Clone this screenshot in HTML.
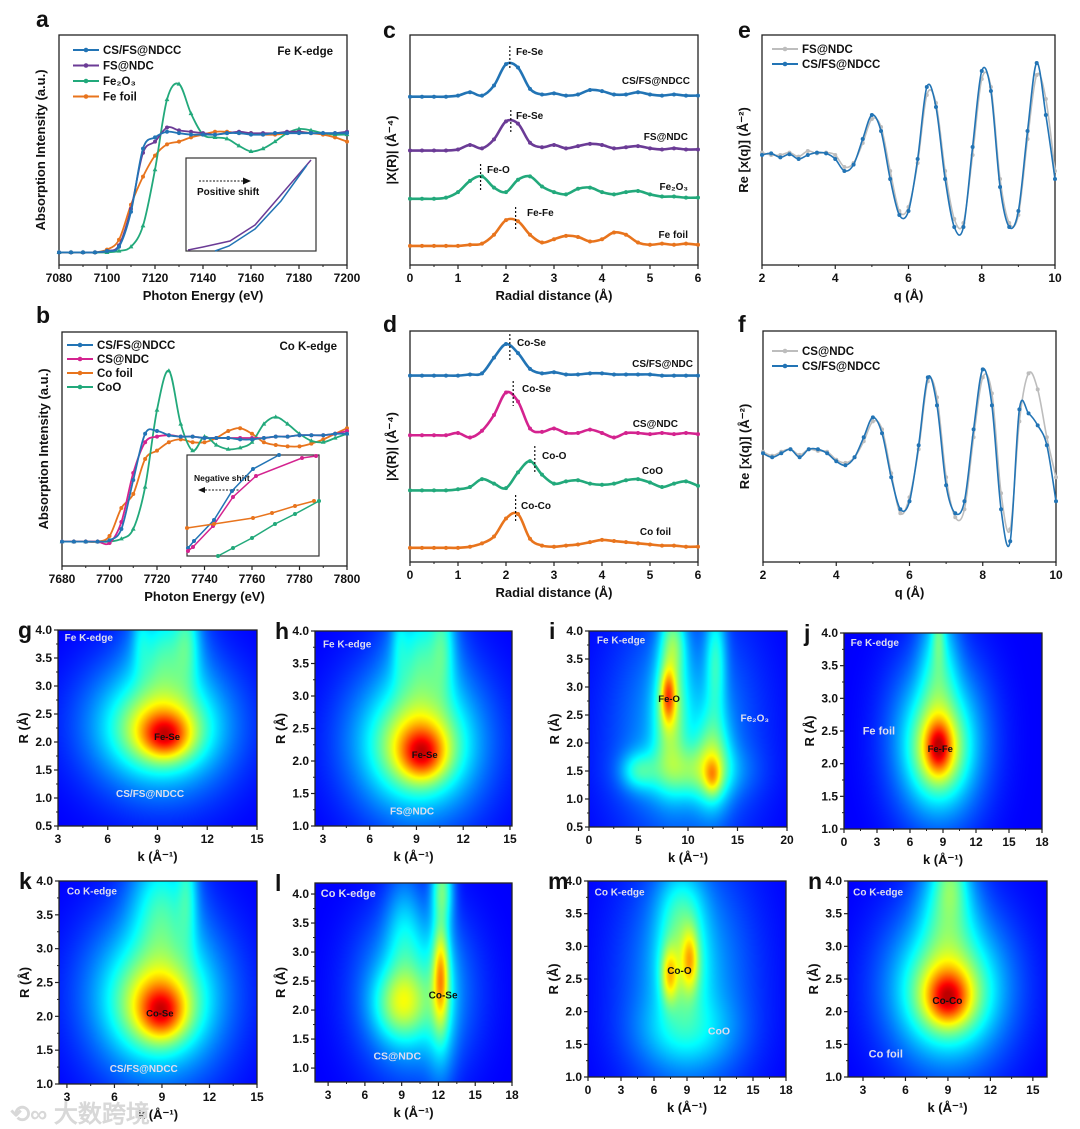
<!DOCTYPE html>
<html><head><meta charset="utf-8">
<style>
html,body{margin:0;padding:0;background:#fff;}
#wrap{position:relative;width:1080px;height:1129px;overflow:hidden;font-family:"Liberation Sans",Arial,sans-serif;}
canvas{position:absolute;}
svg{position:absolute;left:0;top:0;}
text{font-family:"Liberation Sans",Arial,sans-serif;font-weight:bold;}
</style></head>
<body>
<div id="wrap">
<svg id="fig" width="1080" height="1129" viewBox="0 0 1080 1129"></svg>
</div>
<script>
// ---------- data ----------
const aX=[7080,7085,7090,7095,7100,7105,7110,7115,7120,7125,7130,7135,7140,7145,7150,7155,7160,7165,7170,7175,7180,7185,7190,7195,7200];
const aCSFS=[0.01,0.01,0.01,0.01,0.02,0.05,0.3,0.75,0.83,0.87,0.86,0.85,0.85,0.85,0.86,0.86,0.85,0.85,0.86,0.86,0.86,0.86,0.86,0.86,0.86];
const aFS=[0.01,0.01,0.01,0.01,0.02,0.06,0.32,0.72,0.8,0.9,0.88,0.87,0.86,0.85,0.86,0.87,0.86,0.86,0.86,0.87,0.87,0.86,0.86,0.86,0.87];
const aFe2O3=[0.01,0.01,0.01,0.01,0.01,0.02,0.05,0.2,0.6,1.1,1.21,1.0,0.85,0.83,0.82,0.77,0.73,0.75,0.8,0.86,0.89,0.88,0.86,0.85,0.85];
const aFeFoil=[0.01,0.01,0.01,0.01,0.03,0.1,0.35,0.55,0.7,0.78,0.8,0.83,0.85,0.87,0.87,0.86,0.86,0.85,0.85,0.86,0.87,0.86,0.85,0.83,0.8];
const bX=[7680,7685,7690,7695,7700,7705,7710,7715,7720,7725,7730,7735,7740,7745,7750,7755,7760,7765,7770,7775,7780,7785,7790,7795,7800];
const bCSFS=[0.01,0.01,0.01,0.01,0.02,0.1,0.45,0.78,0.8,0.77,0.76,0.76,0.75,0.75,0.75,0.74,0.74,0.75,0.76,0.76,0.77,0.77,0.77,0.78,0.78];
const bCS=[0.01,0.01,0.01,0.01,0.0,0.15,0.5,0.72,0.76,0.77,0.76,0.76,0.75,0.75,0.75,0.75,0.75,0.75,0.76,0.76,0.77,0.77,0.77,0.78,0.8];
const bCoFoil=[0.01,0.01,0.01,0.01,0.05,0.25,0.35,0.6,0.66,0.72,0.74,0.72,0.72,0.75,0.8,0.82,0.78,0.72,0.7,0.69,0.69,0.71,0.74,0.78,0.82];
const bCoO=[0.01,0.01,0.01,0.01,0.01,0.03,0.1,0.4,0.95,1.23,0.85,0.66,0.76,0.7,0.67,0.68,0.72,0.85,0.9,0.85,0.78,0.73,0.72,0.75,0.78];
const rX=[0,0.25,0.5,0.75,1,1.25,1.5,1.75,2,2.25,2.5,2.75,3,3.25,3.5,3.75,4,4.25,4.5,4.75,5,5.25,5.5,5.75,6];
const cCSFS=[0,0,0,0,0.05,0.2,0.05,0.5,1.45,1.3,0.35,0.1,0.15,0.05,0.1,0.3,0.25,0.1,0.1,0.2,0.1,0.05,0.1,0.05,0.05];
const cFS=[0,0,0,0,0.05,0.25,0.1,0.5,1.3,1.2,0.35,0.15,0.25,0.1,0.2,0.3,0.25,0.1,0.15,0.2,0.1,0.05,0.1,0.05,0.05];
const cFe2O3=[0,0,0,0.05,0.3,0.8,1.0,0.5,0.3,0.85,1.0,0.55,0.3,0.2,0.45,0.5,0.3,0.2,0.3,0.35,0.2,0.1,0.1,0.05,0.05];
const cFeFoil=[0,0,0,0,0,0.05,0.1,0.5,1.15,1.1,0.5,0.15,0.3,0.45,0.4,0.2,0.3,0.6,0.5,0.15,0.05,0.1,0.05,0.1,0.05];
const cOffsets=[7.05,4.65,2.5,0.4];
const dCSFS=[0,0,0,0,0,0.05,0.1,0.8,1.4,1.0,0.3,0.1,0.15,0.05,0.05,0.1,0.1,0.05,0.05,0.05,0.05,0,0,0,0];
const dCS=[0,0,0,0,0.1,-0.1,0.2,0.9,1.9,1.5,0.3,0.15,0.3,0.1,0.1,0.25,0.1,-0.1,0.1,0.1,0.05,0.1,0.05,0.1,0.05];
const dCoO=[0,0,0,0,0.05,0.15,0.5,0.3,0.1,0.8,1.3,0.7,0.3,0.4,0.45,0.3,0.25,0.3,0.45,0.5,0.35,0.15,0.3,0.4,0.2];
const dCoFoil=[0,0,0,0,0,0.05,0.2,0.5,1.3,1.5,0.4,0.1,0.05,0.1,0.15,0.25,0.35,0.3,0.25,0.2,0.15,0.1,0.1,0.05,0.05];
const dOffsets=[7.75,5.1,2.65,0.1];
const qX=[2,2.25,2.5,2.75,3,3.25,3.5,3.75,4,4.25,4.5,4.75,5,5.25,5.5,5.75,6,6.25,6.5,6.75,7,7.25,7.5,7.75,8,8.25,8.5,8.75,9,9.25,9.5,9.75,10];
const eCSFS=[0,0.02,-0.03,0.01,-0.05,0,0.03,0.02,-0.05,-0.2,-0.12,0.2,0.5,0.3,-0.3,-0.75,-0.7,-0.05,0.85,0.6,-0.3,-0.9,-0.9,0.1,1.05,0.8,-0.4,-0.9,-0.7,0.3,1.15,0.5,-0.3];
const eFS=[0.03,0,0,0.03,-0.02,0.05,0.02,0.03,0,-0.15,-0.1,0.15,0.45,0.35,-0.2,-0.7,-0.65,-0.1,0.75,0.65,-0.2,-0.8,-0.85,0,0.95,0.85,-0.3,-0.85,-0.75,0.2,1.0,0.7,-0.2];
const fCSFS=[0,-0.05,0,0.05,-0.05,0.05,0.05,0,-0.1,-0.15,-0.05,0.2,0.45,0.25,-0.3,-0.7,-0.6,0.1,0.95,0.6,-0.4,-0.75,-0.6,0.3,1.05,0.6,-0.7,-1.1,0.55,0.5,0.35,0.1,-0.6];
const fCS=[0.02,-0.03,0.02,0.05,-0.02,0.05,0.03,0.02,-0.08,-0.12,-0.05,0.15,0.4,0.3,-0.25,-0.75,-0.55,0.05,0.9,0.7,-0.3,-0.8,-0.7,0.2,0.95,0.75,-0.5,-0.95,0.4,1.0,0.8,0.2,-0.3];
// wavelet blobs: [k, R, sigmaK, sigmaR, amplitude]
const wtG=[[9.5,2.1,1.3,0.35,0.35],[9.3,2.2,2.2,0.55,0.3],[9.0,2.3,3.5,0.9,0.2],[9.3,2.3,3.8,1.2,0.15],[9.5,3.6,1.8,0.9,0.22],[8.0,3.9,0.5,0.6,0.08],[10.8,3.9,0.7,0.8,0.15]];
const wtH=[[9.4,2.1,1.3,0.35,0.35],[9.2,2.2,2.2,0.55,0.3],[8.9,2.3,3.5,0.9,0.2],[9.2,2.3,3.8,1.2,0.15],[9.4,3.6,1.8,0.9,0.22],[7.9,3.9,0.5,0.6,0.08],[10.7,3.9,0.7,0.8,0.15]];
const wtI=[[8,2.85,0.7,0.45,0.4],[8.2,2.6,1.5,1.0,0.3],[12.5,1.4,0.8,0.3,0.22],[12.5,1.7,1.6,0.8,0.25],[10,1.5,4.5,0.45,0.22],[8.5,3.8,1.2,0.6,0.25],[12.8,3.5,1.0,1.0,0.2],[9.5,2.2,6,1.8,0.15],[5,1.5,1.6,0.3,0.15]];
const wtJ=[[8.6,2.25,1.0,0.35,0.35],[8.6,2.2,2.0,0.55,0.3],[8.6,2.3,3.2,0.9,0.2],[8.6,2.4,3.8,1.2,0.15],[8.6,3.5,1.6,1.0,0.18],[8.6,4.0,0.6,0.5,0.15]];
const wtK=[[9,2.05,1.3,0.35,0.35],[8.8,2.15,2.2,0.55,0.3],[8.6,2.3,3.5,0.9,0.2],[8.8,2.3,3.8,1.2,0.15],[9,3.6,1.8,0.9,0.22],[10.6,3.9,0.6,0.8,0.15]];
const wtL=[[12.2,2.6,0.6,0.8,0.4],[12.2,2.2,1.1,1.3,0.15],[9,2.1,2.0,0.55,0.28],[10,2.3,3.8,1.2,0.22],[12.3,4.1,0.8,0.6,0.3],[9.2,3.3,1.4,1.0,0.12]];
const wtM=[[7.4,2.55,0.7,0.4,0.3],[9.3,2.8,0.7,0.45,0.28],[8.5,2.7,2.0,0.7,0.25],[8.5,3.6,2.0,0.6,0.15],[9,1.7,4,0.5,0.12],[9,2.5,5,1.6,0.15]];
const wtN=[[9,2.2,1.3,0.35,0.35],[9,2.25,2.2,0.55,0.3],[9,2.35,3.5,0.9,0.2],[9,2.4,3.8,1.2,0.15],[9,3.6,1.8,0.9,0.22],[9.2,4.0,1.0,0.5,0.15]];

// ---------- helpers ----------
const NS='http://www.w3.org/2000/svg';
const S=document.getElementById('fig');
function mk(tag,parent){const e=document.createElementNS(NS,tag);(parent||S).appendChild(e);return e;}
function sc(d0,d1,p0,p1){return v=>p0+(v-d0)/(d1-d0)*(p1-p0);}
function txt(x,y,s,size,parent,anchor,fill){const t=mk('text',parent);t.setAttribute('x',x);t.setAttribute('y',y);t.setAttribute('font-size',size);t.setAttribute('text-anchor',anchor||'start');t.setAttribute('fill',fill||'#111');t.textContent=s;return t;}
function smoothPath(pts){let d='M'+pts[0][0]+','+pts[0][1];for(let i=0;i<pts.length-1;i++){const p0=pts[i-1]||pts[i],p1=pts[i],p2=pts[i+1],p3=pts[i+2]||p2;d+=' C'+(p1[0]+(p2[0]-p0[0])/6)+','+(p1[1]+(p2[1]-p0[1])/6)+' '+(p2[0]-(p3[0]-p1[0])/6)+','+(p2[1]-(p3[1]-p1[1])/6)+' '+p2[0]+','+p2[1];}return d;}
function frame(g,x0,y0,x1,y1,xs,ticks,minor,xlabel,ylabel,ys,yticks,yminor){
  const r=mk('rect',g);r.setAttribute('x',x0);r.setAttribute('y',y0);r.setAttribute('width',x1-x0);r.setAttribute('height',y1-y0);r.setAttribute('fill','none');r.setAttribute('stroke','#222');r.setAttribute('stroke-width',1.3);
  
  ticks.forEach(v=>{const x=xs(v);const l=mk('line',g);l.setAttribute('x1',x);l.setAttribute('x2',x);l.setAttribute('y1',y1);l.setAttribute('y2',y1+4);l.setAttribute('stroke','#222');l.setAttribute('stroke-width',1.2);
    const t=txt(x,y1+17,String(v),12,g,'middle');});
  (minor||[]).forEach(v=>{const x=xs(v);const l=mk('line',g);l.setAttribute('x1',x);l.setAttribute('x2',x);l.setAttribute('y1',y1);l.setAttribute('y2',y1+2);l.setAttribute('stroke','#222');});
  const xl=txt((x0+x1)/2,y1+35,xlabel,13,g,'middle');
  const yl=txt(0,0,ylabel,13,g,'middle');yl.setAttribute('transform','translate('+(x0-(yticks?30:14))+','+((y0+y1)/2)+') rotate(-90)');
  if(yticks){yticks.forEach(v=>{const y=ys(v);const l=mk('line',g);l.setAttribute('x1',x0-4);l.setAttribute('x2',x0);l.setAttribute('y1',y);l.setAttribute('y2',y);l.setAttribute('stroke','#222');l.setAttribute('stroke-width',1.2);
    const t=txt(x0-6,y+4,v.toFixed(1),12,g,'end');});
    (yminor||[]).forEach(v=>{const y=ys(v);const l=mk('line',g);l.setAttribute('x1',x0-2);l.setAttribute('x2',x0);l.setAttribute('y1',y);l.setAttribute('y2',y);l.setAttribute('stroke','#222');});}
}
function series(g,xsArr,ysArr,xs,ys,color,marker,off,w){
  const pts=xsArr.map((v,i)=>[xs(v),ys(ysArr[i]+(off||0))]);
  const p=mk('path',g);p.setAttribute('d',smoothPath(pts));p.setAttribute('fill','none');p.setAttribute('stroke',color);p.setAttribute('stroke-width',w||1.8);
  
  if(marker){pts.forEach(q=>{let m;if(marker==='tri'){m=mk('path',g);m.setAttribute('d','M'+q[0]+','+(q[1]-2.6)+' l2.4,4.2 h-4.8z');}else{m=mk('circle',g);m.setAttribute('cx',q[0]);m.setAttribute('cy',q[1]);m.setAttribute('r',2);}m.setAttribute('fill',color);
    });}
}
function label(g,s,x,y){const t=mk('text',g);t.setAttribute('x',x);t.setAttribute('y',y);t.setAttribute('font-size',23);t.setAttribute('fill','#111');t.textContent=s;}
function legend(g,x,y,items,gap){items.forEach((it,i)=>{const yy=y+i*gap;const l=mk('line',g);l.setAttribute('x1',x);l.setAttribute('x2',x+26);l.setAttribute('y1',yy);l.setAttribute('y2',yy);l.setAttribute('stroke',it[1]);l.setAttribute('stroke-width',2);
  const c=mk('circle',g);c.setAttribute('cx',x+13);c.setAttribute('cy',yy);c.setAttribute('r',2.3);c.setAttribute('fill',it[1]);
  const t=txt(x+30,yy+4,it[0],11.5,g);});}
function dotted(g,x,y0,y1){const l=mk('line',g);l.setAttribute('x1',x);l.setAttribute('x2',x);l.setAttribute('y1',y0);l.setAttribute('y2',y1);l.setAttribute('stroke','#111');l.setAttribute('stroke-dasharray','2,2');l.setAttribute('stroke-width',1.2);}
const BL='#2274b5',PU='#6b3b96',GR='#22a97b',OR='#e8741d',MA='#d4238f',GY='#bdbdbd';

// ---------- panel a ----------
{const g=mk('g');
const xs=sc(7080,7200,59,347),ys=sc(-0.08,1.56,265,35);
frame(g,59,35,347,265,xs,[7080,7100,7120,7140,7160,7180,7200],[7090,7110,7130,7150,7170,7190],'Photon Energy (eV)','Absorption Intensity (a.u.)');
series(g,aX,aFeFoil,xs,ys,OR,'c');series(g,aX,aFe2O3,xs,ys,GR,'tri');series(g,aX,aFS,xs,ys,PU,'c');series(g,aX,aCSFS,xs,ys,BL,'c');
legend(g,73,50,[['CS/FS@NDCC',BL],['FS@NDC',PU],['Fe₂O₃',GR],['Fe foil',OR]],15.5);
txt(333,55,'Fe K-edge',11.5,g,'end');
const ib=mk('rect',g);ib.setAttribute('x',186);ib.setAttribute('y',158);ib.setAttribute('width',130);ib.setAttribute('height',93);ib.setAttribute('fill','#fff');ib.setAttribute('stroke','#333');ib.setAttribute('stroke-width',1.2);

const ar=mk('line',g);ar.setAttribute('x1',199);ar.setAttribute('x2',244);ar.setAttribute('y1',181);ar.setAttribute('y2',181);ar.setAttribute('stroke','#111');ar.setAttribute('stroke-dasharray','2,1.5');
const ah=mk('path',g);ah.setAttribute('d','M251,181 l-8,-3.5 v7z');ah.setAttribute('fill','#111');
txt(197,195,'Positive shift',10,g);
const p1=mk('polyline',g);p1.setAttribute('points','188,250 203,247 230,241 255,225 280,196 311,160');p1.setAttribute('fill','none');p1.setAttribute('stroke',PU);p1.setAttribute('stroke-width',1.5);
const p2=mk('polyline',g);p2.setAttribute('points','215,251 229,246 255,229 281,201 307,165');p2.setAttribute('fill','none');p2.setAttribute('stroke',BL);p2.setAttribute('stroke-width',1.5);
label(g,'a',36,27);}

// ---------- panel b ----------
{const g=mk('g');
const xs=sc(7680,7800,62,347),ys=sc(-0.164,1.507,566,332);
frame(g,62,332,347,566,xs,[7680,7700,7720,7740,7760,7780,7800],[7690,7710,7730,7750,7770,7790],'Photon Energy (eV)','Absorption Intensity (a.u.)');
g.lastChild.setAttribute('transform','translate(48,449) rotate(-90)');
series(g,bX,bCoFoil,xs,ys,OR,'c');series(g,bX,bCoO,xs,ys,GR,'tri');series(g,bX,bCS,xs,ys,MA,'c');series(g,bX,bCSFS,xs,ys,BL,'c');
legend(g,67,345,[['CS/FS@NDCC',BL],['CS@NDC',MA],['Co foil',OR],['CoO',GR]],14);
txt(337,350,'Co K-edge',11.5,g,'end');
const ib=mk('rect',g);ib.setAttribute('x',187);ib.setAttribute('y',455);ib.setAttribute('width',132);ib.setAttribute('height',101);ib.setAttribute('fill','#fff');ib.setAttribute('stroke','#333');ib.setAttribute('stroke-width',1.2);

txt(194,481,'Negative shift',8.5,g);
const ar=mk('line',g);ar.setAttribute('x1',205);ar.setAttribute('x2',240);ar.setAttribute('y1',490);ar.setAttribute('y2',490);ar.setAttribute('stroke','#111');ar.setAttribute('stroke-dasharray','2,1.5');
const ah=mk('path',g);ah.setAttribute('d','M198,490 l7,-3 v6z');ah.setAttribute('fill','#111');
[['188,548 194,541 214,520 232,491 253,469 279,455',BL],['188,551 193,547 213,526 233,497 256,476 302,458 316,456',MA],['187,528 214,524 253,518 272,513 295,506 314,501',OR],['218,556 233,548 252,538 275,524 295,514 319,501',GR]].forEach(p=>{const l=mk('polyline',g);l.setAttribute('points',p[0]);l.setAttribute('fill','none');l.setAttribute('stroke',p[1]);l.setAttribute('stroke-width',1.5);
  p[0].split(' ').forEach(pt=>{const [x,y]=pt.split(',');const c=mk('circle',g);c.setAttribute('cx',x);c.setAttribute('cy',y);c.setAttribute('r',2);c.setAttribute('fill',p[1]);});});
label(g,'b',36,323);}

// ---------- panel c ----------
{const g=mk('g');
const xs=sc(0,6,410,698),ys=sc(-0.45,9.8,265,35);
frame(g,410,35,698,265,xs,[0,1,2,3,4,5,6],[0.5,1.5,2.5,3.5,4.5,5.5],'Radial distance (Å)','|X(R)| (Å⁻⁴)');
series(g,rX,cCSFS,xs,ys,BL,'c',cOffsets[0],2.6);series(g,rX,cFS,xs,ys,PU,'c',cOffsets[1],2.6);series(g,rX,cFe2O3,xs,ys,GR,'c',cOffsets[2],2.6);series(g,rX,cFeFoil,xs,ys,OR,'c',cOffsets[3],2.6);
dotted(g,xs(2.08),46,70);txt(516,55,'Fe-Se',10,g);dotted(g,xs(2.1),110,134);txt(516,119,'Fe-Se',10,g);
dotted(g,xs(1.47),164,191);txt(487,173,'Fe-O',10,g);dotted(g,xs(2.2),207,230);txt(527,216,'Fe-Fe',10,g);
txt(690,84,'CS/FS@NDCC',10,g,'end');txt(688,140,'FS@NDC',10,g,'end');txt(688,190,'Fe₂O₃',10,g,'end');txt(688,238,'Fe foil',10,g,'end');
label(g,'c',383,38);}

// ---------- panel d ----------
{const g=mk('g');
const xs=sc(0,6,410,698),ys=sc(-0.53,9.73,562,331);
frame(g,410,331,698,562,xs,[0,1,2,3,4,5,6],[0.5,1.5,2.5,3.5,4.5,5.5],'Radial distance (Å)','|X(R)| (Å⁻⁴)');
series(g,rX,dCSFS,xs,ys,BL,'c',dOffsets[0],2.6);series(g,rX,dCS,xs,ys,MA,'c',dOffsets[1],2.6);series(g,rX,dCoO,xs,ys,GR,'c',dOffsets[2],2.6);series(g,rX,dCoFoil,xs,ys,OR,'c',dOffsets[3],2.6);
dotted(g,xs(2.08),334,361);txt(517,346,'Co-Se',10,g);dotted(g,xs(2.15),381,406);txt(522,392,'Co-Se',10,g);
dotted(g,xs(2.6),446,472);txt(542,459,'Co-O',10,g);dotted(g,xs(2.2),495,522);txt(521,509,'Co-Co',10,g);
txt(693,367,'CS/FS@NDC',10,g,'end');txt(678,427,'CS@NDC',10,g,'end');txt(663,474,'CoO',10,g,'end');txt(671,535,'Co foil',10,g,'end');
label(g,'d',383,332);}

// ---------- panel e ----------
{const g=mk('g');
const xs=sc(2,10,762,1055),ys=sc(-1.375,1.5,265,35);
frame(g,762,35,1055,265,xs,[2,4,6,8,10],[3,5,7,9],'q (Å)','Re [x(q)] (Å⁻²)');
series(g,qX,eFS,xs,ys,GY,'c',0,1.6);series(g,qX,eCSFS,xs,ys,BL,'c',0,1.6);
legend(g,772,49,[['FS@NDC',GY],['CS/FS@NDCC',BL]],15);
label(g,'e',738,38);}

// ---------- panel f ----------
{const g=mk('g');
const xs=sc(2,10,763,1056),ys=sc(-1.36,1.53,562,331);
frame(g,763,331,1056,562,xs,[2,4,6,8,10],[3,5,7,9],'q (Å)','Re [x(q)] (Å⁻²)');
series(g,qX,fCS,xs,ys,GY,'c',0,1.6);series(g,qX,fCSFS,xs,ys,BL,'c',0,1.6);
legend(g,772,351,[['CS@NDC',GY],['CS/FS@NDCC',BL]],15);
label(g,'f',738,332);}

// ---------- wavelet panels ----------
const wrap=document.getElementById('wrap');
function jet(v){v=Math.pow(Math.min(1,Math.max(0,v)),0.75);const t=0.12+0.82*v;const c=x=>Math.round(255*Math.min(1,Math.max(0,x)));return [c(1.5-Math.abs(4*t-3)),c(1.5-Math.abs(4*t-2)),c(1.5-Math.abs(4*t-1))];}
function wt(name,letter,x0,y0,x1,y1,kd,rd,kt,rt,blobs,texts){
  const cv=document.createElement('canvas');cv.width=x1-x0;cv.height=y1-y0;cv.style.left=x0+'px';cv.style.top=y0+'px';wrap.insertBefore(cv,S);
  
  
  const ctx=cv.getContext('2d');const im=ctx.createImageData(cv.width,cv.height);
  for(let j=0;j<cv.height;j++)for(let i=0;i<cv.width;i++){const k=kd[0]+(i+0.5)/cv.width*(kd[1]-kd[0]);const R=rd[1]-(j+0.5)/cv.height*(rd[1]-rd[0]);
    let v=0;blobs.forEach(b=>{v+=b[4]*Math.exp(-Math.pow((k-b[0])/b[2],2)-Math.pow((R-b[1])/b[3],2));});
    const c=jet(v);const o=(j*cv.width+i)*4;im.data[o]=c[0];im.data[o+1]=c[1];im.data[o+2]=c[2];im.data[o+3]=255;}
  ctx.putImageData(im,0,0);
  const g=mk('g');
  const xs=sc(kd[0],kd[1],x0,x1),ys=sc(rd[0],rd[1],y1,y0);
  const minor=[];for(let i=0;i<kt.length-1;i++)minor.push((kt[i]+kt[i+1])/2);
  const rminor=[];for(let i=0;i<rt.length-1;i++)rminor.push((rt[i]+rt[i+1])/2);
  frame(g,x0,y0,x1,y1,xs,kt,minor,'k (Å⁻¹)','R (Å)',ys,rt,rminor);
  texts.forEach(t=>{const e=txt(xs(t[1]),ys(t[2]),t[0],t[3],g,'start',t[4]);});
  label(g,letter,x0-40,y0+8);
}
const R05=[0.5,1.0,1.5,2.0,2.5,3.0,3.5,4.0],R10=[1.0,1.5,2.0,2.5,3.0,3.5,4.0];
wt('panel-g-wavelet','g',58,630,257,826,[3,15],[0.5,4.0],[3,6,9,12,15],R05,wtG,[['Fe K-edge',3.4,3.8,10,'#dde'],['Fe-Se',8.8,2.04,9.5,'#111'],['CS/FS@NDCC',6.5,1.02,10,'#dde']]);
wt('panel-h-wavelet','h',315,631,512,826,[2.49,15.13],[1.0,4.0],[3,6,9,12,15],R10,wtH,[['Fe K-edge',3.0,3.75,10,'#dde'],['Fe-Se',8.7,2.05,9.5,'#111'],['FS@NDC',7.3,1.18,10,'#dde']]);
wt('panel-i-wavelet','i',589,631,787,827,[0,20],[0.5,4.0],[0,5,10,15,20],R05,wtI,[['Fe K-edge',0.8,3.78,10,'#dde'],['Fe-O',7.0,2.73,9.5,'#111'],['Fe₂O₃',15.3,2.38,10,'#dde']]);
wt('panel-j-wavelet','j',844,633,1042,829,[0,18],[1.0,4.0],[0,3,6,9,12,15,18],R10,wtJ,[['Fe K-edge',0.6,3.8,10,'#dde'],['Fe foil',1.7,2.45,11,'#dde'],['Fe-Fe',7.6,2.18,9.5,'#111']]);
wt('panel-k-wavelet','k',59,881,257,1084,[2.5,15],[1.0,4.0],[3,6,9,12,15],R10,wtK,[['Co K-edge',3.0,3.8,10,'#dde'],['Co-Se',8.0,2.0,9.5,'#111'],['CS/FS@NDCC',5.7,1.18,10,'#dde']]);
wt('panel-l-wavelet','l',315,883,512,1082,[1.93,18],[0.76,4.19],[3,6,9,12,15,18],R10,wtL,[['Co K-edge',2.4,3.95,11,'#dde'],['Co-Se',11.2,2.2,10,'#111'],['CS@NDC',6.7,1.15,10.5,'#dde']]);
wt('panel-m-wavelet','m',588,881,786,1077,[0,18],[1.0,4.0],[0,3,6,9,12,15,18],R10,wtM,[['Co K-edge',0.6,3.78,10,'#dde'],['Co-O',7.2,2.58,10,'#111'],['CoO',10.9,1.65,10.5,'#dde']]);
wt('panel-n-wavelet','n',848,881,1047,1077,[1.94,16],[1.0,4.0],[3,6,9,12,15],R10,wtN,[['Co K-edge',2.3,3.78,10,'#dde'],['Co-Co',7.9,2.12,10,'#111'],['Co foil',3.4,1.3,11,'#dde']]);
{const w=txt(10,1122,'⟲∞ 大数跨境',24,null,'start','#d8d8d8');w.setAttribute('font-family','"Liberation Sans","Noto Sans CJK SC",sans-serif');}
</script>
</body></html>
